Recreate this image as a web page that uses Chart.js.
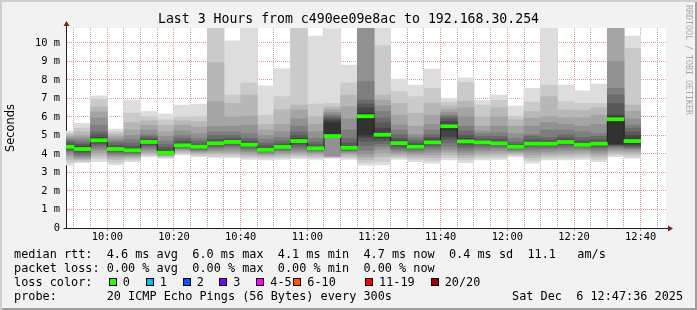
<!DOCTYPE html>
<html>
<head>
<meta charset="utf-8">
<script src="https://cdn.jsdelivr.net/npm/chart.js@4.4.1/dist/chart.umd.min.js"></script>
<style>
  html, body { margin: 0; padding: 0; background: #fff; }
  #wrap {
    position: relative; width: 697px; height: 310px; background: #f2f2f2;
    box-shadow: inset 2px 2px 0 #cfcfcf, inset -2px -2px 0 #9e9e9e;
    font-family: "DejaVu Sans Mono", monospace; color: #000;
  }
  #chart { position: absolute; left: 0; top: 0; }
  #title { position: absolute; left: 0; width: 697px; top: 11px; line-height: 16px;
           text-align: center; font-size: 13.2px; white-space: pre; }
  #mark { position: absolute; left: 684px; top: 5px; writing-mode: vertical-rl;
          font-size: 8.3px; color: #a8a8a8; white-space: pre; }
  .leg { position: absolute; font-size: 11.85px; line-height: 14px; white-space: pre; }
  .sw { position: absolute; width: 6px; height: 6px; border: 1px solid #000; top: 278px; }
</style>
</head>
<body>
<div id="wrap">
  <canvas id="chart" width="697" height="310"></canvas>
  <div id="title">Last 3 Hours from c490ee09e8ac to 192.168.30.254</div>
  <div id="mark">RRDTOOL / TOBI OETIKER</div>
  <div class="leg" style="left:14px; top:247px">median rtt:  4.6 ms avg  6.0 ms max  4.1 ms min  4.7 ms now  0.4 ms sd  11.1   am/s</div>
  <div class="leg" style="left:14px; top:261px">packet loss: 0.00 % avg  0.00 % max  0.00 % min  0.00 % now</div>
  <div class="leg" style="left:14px; top:275px">loss color:</div>
  <div class="leg" style="left:14px; top:289px">probe:       20 ICMP Echo Pings (56 Bytes) every 300s</div>
  <div class="leg" style="left:512px; top:289px">Sat Dec  6 12:47:36 2025</div>
</div>
<script>
// time range of the graph
const rangeStart = "09:47:36";
const rangeEnd = "12:47:36";

// each 5 minute slot, labelled by its end time
const slotEnd = ["09:50", "09:55", "10:00", "10:05", "10:10", "10:15", "10:20", "10:25", "10:30", "10:35",
	"10:40", "10:45", "10:50", "10:55", "11:00", "11:05", "11:10", "11:15", "11:20", "11:25",
	"11:30", "11:35", "11:40", "11:45", "11:50", "11:55", "12:00", "12:05", "12:10", "12:15",
	"12:20", "12:25", "12:30", "12:35", "12:40"];

// median rtt (ms)
const median = [4.39, 4.27, 4.74, 4.27, 4.20, 4.65, 4.07, 4.47, 4.39, 4.58,
	4.65, 4.50, 4.23, 4.38, 4.70, 4.31, 4.97, 4.34, 6.04, 5.04,
	4.59, 4.39, 4.63, 5.50, 4.68, 4.63, 4.58, 4.39, 4.56, 4.56,
	4.65, 4.50, 4.56, 5.88, 4.70];

// packet loss per slot (pings lost out of 20)
const lossCount = [0, 0, 0, 0, 0, 0, 0, 0, 0, 0, 0, 0, 0, 0, 0, 0, 0, 0, 0, 0,
	0, 0, 0, 0, 0, 0, 0, 0, 0, 0, 0, 0, 0, 0, 0];

// sorted ping times (ms) per slot: p01 = fastest ... p20 = slowest
const p01 = [3.40, 3.53, 3.58, 3.41, 3.58, 3.85, 3.77, 3.95, 3.85, 3.80, 3.80, 3.71, 3.68, 3.71, 3.75, 3.71, 3.77, 3.71, 3.40, 3.41, 3.71, 3.58, 3.50, 3.68, 3.53, 3.68, 3.71, 3.85, 3.50, 3.68, 3.68, 3.71, 3.58, 3.85, 3.77];
const p02 = [3.55, 3.60, 3.75, 3.55, 3.68, 3.92, 3.82, 4.02, 3.92, 3.90, 3.90, 3.80, 3.78, 3.80, 3.85, 3.80, 3.80, 3.80, 3.55, 3.60, 3.80, 3.70, 3.65, 3.80, 3.68, 3.80, 3.82, 3.93, 3.65, 3.78, 3.80, 3.82, 3.70, 3.95, 3.88];
const p03 = [3.70, 3.68, 3.90, 3.70, 3.78, 4.00, 3.88, 4.10, 4.00, 4.00, 4.00, 3.90, 3.88, 3.90, 3.95, 3.90, 3.84, 3.90, 3.70, 3.85, 3.90, 3.82, 3.80, 3.95, 3.82, 3.92, 3.95, 4.00, 3.80, 3.90, 3.92, 3.95, 3.85, 4.05, 4.00];
const p04 = [3.85, 3.75, 4.05, 3.82, 3.86, 4.10, 3.92, 4.18, 4.08, 4.10, 4.10, 4.00, 3.95, 4.00, 4.05, 4.00, 3.87, 4.00, 3.85, 4.05, 4.00, 3.95, 3.95, 4.10, 3.95, 4.05, 4.08, 4.08, 3.95, 4.02, 4.05, 4.08, 3.98, 4.15, 4.12];
const p05 = [3.98, 3.82, 4.20, 3.92, 3.94, 4.20, 3.96, 4.25, 4.15, 4.20, 4.22, 4.12, 4.02, 4.10, 4.15, 4.08, 3.90, 4.08, 4.00, 4.25, 4.10, 4.05, 4.10, 4.22, 4.08, 4.18, 4.20, 4.15, 4.10, 4.15, 4.18, 4.20, 4.10, 4.25, 4.22];
const p06 = [4.10, 3.90, 4.32, 4.00, 4.00, 4.30, 4.00, 4.30, 4.20, 4.30, 4.35, 4.22, 4.08, 4.18, 4.25, 4.15, 4.90, 4.15, 4.20, 4.40, 4.20, 4.15, 4.25, 4.40, 4.20, 4.30, 4.32, 4.22, 4.25, 4.28, 4.30, 4.30, 4.22, 4.35, 4.30];
const p07 = [4.18, 4.00, 4.45, 4.08, 4.06, 4.40, 4.03, 4.35, 4.25, 4.38, 4.45, 4.32, 4.13, 4.25, 4.38, 4.20, 4.93, 4.20, 4.45, 4.55, 4.30, 4.25, 4.38, 4.60, 4.35, 4.42, 4.42, 4.28, 4.38, 4.38, 4.42, 4.38, 4.33, 4.42, 4.36];
const p08 = [4.25, 4.10, 4.55, 4.15, 4.10, 4.48, 4.05, 4.40, 4.30, 4.45, 4.52, 4.40, 4.18, 4.30, 4.50, 4.24, 4.96, 4.25, 4.70, 4.70, 4.42, 4.32, 4.48, 4.80, 4.48, 4.52, 4.50, 4.33, 4.46, 4.46, 4.52, 4.44, 4.42, 4.47, 4.42];
const p09 = [4.32, 4.18, 4.63, 4.20, 4.15, 4.55, 4.07, 4.43, 4.34, 4.50, 4.58, 4.45, 4.21, 4.34, 4.60, 4.27, 4.98, 4.30, 4.90, 4.85, 4.52, 4.37, 4.56, 4.94, 4.58, 4.58, 4.55, 4.36, 4.52, 4.52, 4.60, 4.48, 4.50, 4.50, 4.50];
const p10 = [4.36, 4.25, 4.70, 4.25, 4.18, 4.62, 4.08, 4.46, 4.37, 4.55, 4.62, 4.49, 4.24, 4.37, 4.66, 4.29, 5.00, 4.33, 5.03, 4.98, 4.58, 4.40, 4.62, 5.30, 4.65, 4.62, 4.58, 4.38, 4.55, 4.55, 4.64, 4.50, 4.54, 4.55, 4.60];
const p11 = [4.42, 4.32, 4.78, 4.30, 4.22, 4.68, 4.10, 4.50, 4.40, 4.61, 4.68, 4.52, 4.27, 4.40, 4.72, 4.33, 5.70, 4.36, 6.20, 5.10, 4.64, 4.43, 4.68, 5.60, 4.72, 4.66, 4.61, 4.40, 4.58, 4.58, 4.68, 4.54, 4.58, 6.00, 4.80];
const p12 = [4.50, 4.42, 4.90, 4.38, 4.30, 4.75, 4.20, 4.58, 4.46, 4.70, 4.75, 4.60, 4.35, 4.45, 4.85, 4.40, 5.84, 4.45, 6.50, 5.40, 4.72, 4.50, 4.78, 5.75, 4.85, 4.72, 4.68, 4.45, 4.65, 4.65, 4.75, 4.60, 4.65, 6.10, 5.00];
const p13 = [4.60, 4.52, 5.05, 4.48, 4.42, 4.85, 4.35, 4.70, 4.55, 4.80, 4.85, 4.70, 4.45, 4.55, 5.00, 4.50, 5.92, 4.60, 6.70, 5.70, 4.85, 4.60, 4.90, 5.90, 5.00, 4.82, 4.80, 4.52, 4.78, 4.75, 4.88, 4.72, 4.78, 6.74, 5.20];
const p14 = [4.70, 4.62, 5.20, 4.60, 4.60, 4.95, 4.50, 4.85, 4.70, 5.00, 5.00, 4.85, 4.60, 4.70, 5.20, 4.65, 6.02, 4.85, 6.92, 5.95, 5.05, 4.75, 5.05, 6.00, 5.25, 4.95, 4.95, 4.65, 4.95, 4.90, 5.03, 4.90, 4.95, 7.20, 5.40];
const p15 = [4.78, 4.75, 5.55, 4.70, 4.80, 5.05, 4.70, 5.00, 4.85, 5.20, 5.20, 5.10, 4.80, 4.90, 5.50, 4.85, 6.12, 5.30, 7.91, 6.30, 5.30, 4.90, 5.30, 6.10, 5.50, 5.10, 5.15, 4.85, 5.05, 5.30, 5.30, 5.20, 5.10, 7.55, 5.57];
const p16 = [4.85, 4.88, 5.95, 4.82, 5.00, 5.30, 4.95, 5.25, 5.10, 5.48, 5.50, 5.55, 5.00, 5.20, 5.90, 5.20, 6.25, 5.90, 11.2, 6.60, 5.57, 5.05, 5.60, 6.25, 6.00, 5.25, 5.50, 5.10, 5.50, 5.70, 5.60, 5.50, 5.60, 8.99, 5.90];
const p17 = [4.95, 5.00, 6.28, 4.95, 5.30, 5.55, 5.20, 5.55, 5.45, 6.83, 6.00, 6.05, 5.30, 5.60, 6.38, 5.60, 6.40, 6.56, 11.5, 6.92, 6.10, 5.50, 6.10, 6.40, 6.50, 5.50, 6.00, 5.50, 5.93, 6.02, 5.95, 5.95, 6.10, 11.3, 6.30];
const p18 = [5.05, 5.20, 6.55, 5.08, 5.70, 5.80, 5.55, 5.80, 5.75, 8.94, 6.74, 7.19, 5.60, 6.40, 6.65, 6.02, 6.55, 7.19, 11.8, 7.19, 6.74, 6.20, 6.75, 6.60, 6.85, 6.00, 6.50, 5.85, 6.29, 7.10, 6.38, 6.35, 6.50, 11.6, 6.65];
const p19 = [5.12, 5.40, 6.95, 5.20, 6.20, 6.02, 5.85, 6.00, 6.02, 11.5, 7.19, 7.85, 6.10, 7.10, 11.2, 6.70, 6.74, 7.85, 12.0, 9.85, 7.37, 7.10, 7.55, 6.80, 7.87, 6.65, 6.90, 6.05, 6.80, 7.73, 6.83, 6.74, 6.74, 12.0, 9.71];
const p20 = [5.24, 5.66, 7.15, 5.35, 6.92, 6.30, 6.16, 6.65, 6.70, 12.5, 10.12, 11.2, 7.68, 8.60, 12.0, 10.38, 10.76, 8.81, 12.5, 10.79, 8.05, 7.73, 8.59, 6.99, 8.12, 6.90, 7.19, 6.59, 7.55, 11.3, 7.73, 7.42, 7.78, 12.5, 10.38];

// axis labels
const xTickLabels = ["10:00", "10:20", "10:40", "11:00", "11:20", "11:40", "12:00", "12:20", "12:40"];
const yTickLabels = ["0", "1 m", "2 m", "3 m", "4 m", "5 m", "6 m", "7 m", "8 m", "9 m", "10 m"];
const yMax = 10.81;

// loss colour legend
const lossLabels = ["0", "1", "2", "3", "4-5", "6-10", "11-19", "20/20"];
const lossFrom = [0, 1, 2, 3, 4, 6, 11, 20];
const lossColors = ["#26ff00", "#00b8ff", "#0059ff", "#7e00ff", "#ff00ff", "#ff5500", "#ff0000", "#a10000"];

const pings = [p01, p02, p03, p04, p05, p06, p07, p08, p09, p10, p11, p12, p13, p14, p15, p16, p17, p18, p19, p20];

function toMin(s) {
	const [h, m, sec = 0] = s.split(":").map(Number);
	return h * 60 + m + sec / 60;
}
function fmtMin(v) {
	const h = Math.floor(v / 60), m = Math.round(v % 60);
	return String(h).padStart(2, "0") + ":" + String(m).padStart(2, "0");
}
function lossColor(n) {
	let c = lossColors[0];
	lossFrom.forEach((f, i) => { if (n >= f) c = lossColors[i]; });
	return c;
}

const centers = slotEnd.map(t => toMin(t) - 2.5);

// legend swatches
const wrap = document.getElementById("wrap");
const swatchX = [108.7, 145.7, 182.7, 219.3, 256.3, 293.3, 365, 430.7];
lossLabels.forEach((lbl, i) => {
	const sw = document.createElement("span");
	sw.className = "sw";
	sw.style.left = swatchX[i] + "px";
	sw.style.background = lossColors[i];
	wrap.appendChild(sw);
	const tx = document.createElement("div");
	tx.className = "leg";
	tx.style.left = (swatchX[i] + 14) + "px";
	tx.style.top = "275px";
	tx.textContent = lbl;
	wrap.appendChild(tx);
});

// smoke layers, outermost (lightest) first
const datasets = [];
for (let L = 1; L <= 10; L++) {
	const g = Math.floor(190 / 10 * (10 - L)) + 50;
	datasets.push({
		type: "bar",
		data: centers.map((x, i) => ({ x: x, y: [pings[L - 1][i], pings[20 - L][i]] })),
		backgroundColor: `rgb(${g},${g},${g})`,
		borderWidth: 0,
		grouped: false,
		barPercentage: 1,
		categoryPercentage: 1,
		order: 20 - L,
		clip: 0,
	});
}
// median connector line
datasets.push({
	type: "line",
	data: centers.map((x, i) => ({ x: x, y: median[i] })),
	borderColor: "#202020",
	borderWidth: 1,
	stepped: "middle",
	pointRadius: 0,
	order: 2,
	clip: 0,
});
// median band coloured by loss
datasets.push({
	type: "bar",
	data: centers.map((x, i) => ({ x: x, y: [median[i] - 0.085, median[i] + 0.085] })),
	backgroundColor: lossCount.map(lossColor),
	borderWidth: 0,
	grouped: false,
	barPercentage: 1,
	categoryPercentage: 1,
	order: 1,
	clip: 0,
});

const MINOR = "rgba(143,143,143,0.75)";
const MAJOR = "rgba(222,79,79,0.6)";

const plotBg = {
	id: "plotBg",
	beforeDraw(chart) {
		const { ctx, chartArea: a } = chart;
		ctx.save();
		ctx.fillStyle = "#ffffff";
		ctx.fillRect(a.left, a.top, a.right - a.left, a.bottom - a.top);
		ctx.restore();
	},
};

const arrows = {
	id: "arrows",
	afterDraw(chart) {
		const { ctx, chartArea: a } = chart;
		const x0 = Math.round(a.left) + 0.5, y0 = Math.round(a.bottom) + 0.5;
		ctx.save();
		ctx.strokeStyle = "#1f1f1f";
		ctx.lineWidth = 1;
		ctx.beginPath();
		ctx.moveTo(x0, a.top);
		ctx.lineTo(x0, a.top - 3);
		ctx.moveTo(a.right, y0);
		ctx.lineTo(a.right + 4, y0);
		ctx.moveTo(x0 - 3, y0);
		ctx.lineTo(x0, y0);
		ctx.stroke();
		ctx.fillStyle = "#801f1f";
		ctx.beginPath();
		ctx.moveTo(x0 - 3, a.top - 2);
		ctx.lineTo(x0 + 3, a.top - 2);
		ctx.lineTo(x0, a.top - 7);
		ctx.closePath();
		ctx.fill();
		ctx.beginPath();
		ctx.moveTo(a.right + 2, y0 - 3);
		ctx.lineTo(a.right + 2, y0 + 3);
		ctx.lineTo(a.right + 7, y0);
		ctx.closePath();
		ctx.fill();
		ctx.restore();
	},
};

Chart.defaults.font.family = "'DejaVu Sans Mono', monospace";
Chart.defaults.color = "#000";

new Chart(document.getElementById("chart"), {
	type: "bar",
	data: { datasets: datasets },
	options: {
		responsive: false,
		animation: false,
		events: [],
		layout: { padding: { left: 0, right: 31, top: 28, bottom: 0 } },
		plugins: { legend: { display: false }, tooltip: { enabled: false } },
		scales: {
			x: {
				type: "linear",
				min: toMin(rangeStart),
				max: toMin(rangeEnd),
				offset: false,
				z: 1,
				afterBuildTicks: (scale) => {
					const t = [];
					for (let v = Math.ceil(toMin(rangeStart) / 5) * 5; v <= toMin(rangeEnd); v += 5) t.push({ value: v });
					scale.ticks = t;
				},
				afterFit: (scale) => { scale.height = 82; },
				grid: {
					offset: false,
					drawTicks: true,
					tickLength: 3,
					color: (c) => (xTickLabels.includes(fmtMin(c.tick.value)) ? MAJOR : MINOR),
					tickColor: (c) => (xTickLabels.includes(fmtMin(c.tick.value)) ? MAJOR : "rgba(0,0,0,0)"),
				},
				border: { display: true, color: "#1f1f1f", width: 1, dash: [1, 1] },
				ticks: {
					autoSkip: false,
					maxRotation: 0,
					padding: 0,
					font: { size: 10.4 },
					callback: (v) => (xTickLabels.includes(fmtMin(v)) ? fmtMin(v) : ""),
				},
			},
			y: {
				min: 0,
				max: yMax,
				z: 1,
				afterBuildTicks: (scale) => {
					const t = [];
					for (let v = 0; v <= yMax; v += 0.5) t.push({ value: v });
					scale.ticks = t;
				},
				afterFit: (scale) => { scale.width = 66; },
				grid: {
					drawTicks: false,
					color: (c) => (c.tick.value === 0 ? "rgba(0,0,0,0)" : Number.isInteger(c.tick.value) ? MAJOR : MINOR),
				},
				border: { display: true, color: "#1f1f1f", width: 1, dash: [1, 1] },
				ticks: {
					padding: 6,
					font: { size: 10.4 },
					callback: (v) => (Number.isInteger(v) ? yTickLabels[v] : ""),
				},
				title: {
					display: true,
					text: "Seconds",
					padding: { top: 4, bottom: 0 },
					font: { family: "'DejaVu Sans', sans-serif", size: 11.4 },
				},
			},
		},
	},
	plugins: [plotBg, arrows],
});
</script>
</body>
</html>
